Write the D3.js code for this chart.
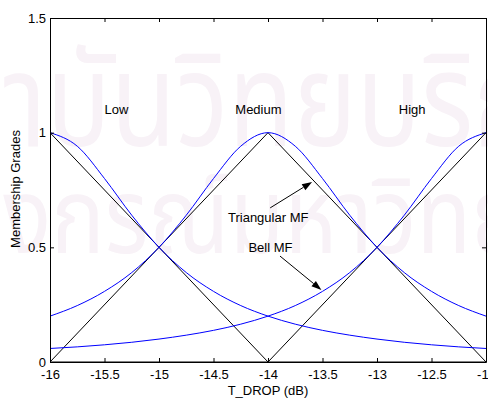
<!DOCTYPE html>
<html>
<head>
<meta charset="utf-8">
<script src="https://cdn.jsdelivr.net/npm/d3@7"></script>
<style>
  body { margin: 0; background: #fff; }
  svg { display: block; }
  text { font-family: "Liberation Sans", Arial, sans-serif; }
</style>
</head>
<body>
<div id="chart"></div>
<script>
// sample points along T_DROP (dB)
const xs = [-16, -15.75, -15.5, -15.25, -15, -14.75, -14.5, -14.25, -14, -13.75, -13.5, -13.25, -13, -12.75, -12.5, -12.25, -12];

// bell MFs (blue)
const bellLow = [1, 0.941, 0.8, 0.64, 0.5, 0.39, 0.308, 0.246, 0.2, 0.165, 0.138, 0.117, 0.1, 0.086, 0.075, 0.066, 0.059];
const bellMedium = [0.2, 0.246, 0.308, 0.39, 0.5, 0.64, 0.8, 0.941, 1, 0.941, 0.8, 0.64, 0.5, 0.39, 0.308, 0.246, 0.2];
const bellHigh = [0.059, 0.066, 0.075, 0.086, 0.1, 0.117, 0.138, 0.165, 0.2, 0.246, 0.308, 0.39, 0.5, 0.64, 0.8, 0.941, 1];

// triangular MFs (black), break points
const triX = [-16, -15, -14, -13, -12];
const triLow = [1, 0.5, 0, 0, 0];
const triMedium = [0, 0.5, 1, 0.5, 0];
const triHigh = [0, 0, 0, 0.5, 1];

const xTicks = [-16, -15.5, -15, -14.5, -14, -13.5, -13, -12.5, -12];
const xTickLabels = ['-16', '-15.5', '-15', '-14.5', '-14', '-13.5', '-13', '-12.5', '-12'];
const yTicks = [0, 0.5, 1, 1.5];
const yTickLabels = ['0', '0.5', '1', '1.5'];

const mfNames = ['Low', 'Medium', 'High'];
const mfLabelX = [-15.5, -14.3, -12.8];
const mfLabelY = 1.1;

const watermark = ['สถาบันวิทยบริการ', 'จุฬาลงกรณ์มหาวิทยาลัย'];

const W = 488, H = 399;
const margin = { top: 18, right: 2, bottom: 37, left: 50 };
const w = W - margin.left - margin.right;
const h = H - margin.top - margin.bottom;

const svg = d3.select('#chart').append('svg')
  .attr('width', W)
  .attr('height', H);

// faint background watermark (condensed, very light)
const wm = [
  { x: -122, y: 146, size: 130, sx: 0.82 },
  { x: -191, y: 253, size: 105, sx: 0.85 }
];
svg.append('g')
  .attr('fill', '#f8f2f7')
  .selectAll('text')
  .data(watermark)
  .join('text')
  .attr('transform', (d, i) => `translate(${wm[i].x},${wm[i].y}) scale(${wm[i].sx},1)`)
  .attr('font-size', (d, i) => wm[i].size)
  .style('font-family', '"Noto Sans Thai", "Noto Sans", sans-serif')
  .text(d => d);

const g = svg.append('g').attr('transform', `translate(${margin.left},${margin.top})`);

const x = d3.scaleLinear().domain([-16, -12]).range([0, w]);
const y = d3.scaleLinear().domain([0, 1.5]).range([h, 0]);

g.append('clipPath').attr('id', 'clip')
  .append('rect').attr('width', w).attr('height', h);

const line = d3.line()
  .x(d => x(d[0]))
  .y(d => y(d[1]));

const plot = g.append('g').attr('clip-path', 'url(#clip)');

[triLow, triMedium, triHigh].forEach(s => {
  plot.append('path')
    .datum(triX.map((v, i) => [v, s[i]]))
    .attr('fill', 'none')
    .attr('stroke', '#000')
    .attr('stroke-width', 1)
    .attr('d', line);
});

const bellLine = line.curve(d3.curveMonotoneX);
[bellLow, bellMedium, bellHigh].forEach(s => {
  plot.append('path')
    .datum(xs.map((v, i) => [v, s[i]]))
    .attr('fill', 'none')
    .attr('stroke', '#0000ff')
    .attr('stroke-width', 1)
    .attr('d', bellLine);
});

// axes, ticks pointing inward on all four sides
const fmtX = d => xTickLabels[xTicks.indexOf(d)];
const fmtY = d => yTickLabels[yTicks.indexOf(d)];

const styleAxis = sel => {
  sel.selectAll('path.domain').attr('stroke', '#000');
  sel.selectAll('.tick line').attr('stroke', '#000');
  sel.selectAll('text').attr('fill', '#000').attr('font-size', 13)
    .style('font-family', '"Liberation Sans", Arial, sans-serif');
};

g.append('g')
  .attr('transform', `translate(0,${h})`)
  .call(d3.axisBottom(x).tickValues(xTicks).tickFormat(fmtX).tickSizeInner(-4).tickSizeOuter(0).tickPadding(8))
  .call(styleAxis);

g.append('g')
  .call(d3.axisTop(x).tickValues(xTicks).tickFormat('').tickSizeInner(-4).tickSizeOuter(0))
  .call(styleAxis);

g.append('g')
  .call(d3.axisLeft(y).tickValues(yTicks).tickFormat(fmtY).tickSizeInner(-4).tickSizeOuter(0).tickPadding(4))
  .call(styleAxis);

g.append('g')
  .attr('transform', `translate(${w},0)`)
  .call(d3.axisRight(y).tickValues(yTicks).tickFormat('').tickSizeInner(-4).tickSizeOuter(0))
  .call(styleAxis);

// MF names
g.selectAll('text.mf')
  .data(mfNames)
  .join('text')
  .attr('class', 'mf')
  .attr('x', (d, i) => x(mfLabelX[i]))
  .attr('y', y(mfLabelY))
  .attr('dy', '0.35em')
  .attr('font-size', 13)
  .text(d => d);

// annotations with arrows
const notes = [
  { text: 'Triangular MF', tx: -14.367, ty: 0.632, from: [-13.98, 0.672], to: [-13.596, 0.785] },
  { text: 'Bell MF', tx: -14.18, ty: 0.5, from: [-13.89, 0.462], to: [-13.51, 0.314] }
];

notes.forEach(n => {
  g.append('text')
    .attr('x', x(n.tx))
    .attr('y', y(n.ty))
    .attr('dy', '0.35em')
    .attr('font-size', 13)
    .text(n.text);

  const x1 = x(n.from[0]), y1 = y(n.from[1]);
  const x2 = x(n.to[0]), y2 = y(n.to[1]);
  const ang = Math.atan2(y2 - y1, x2 - x1);
  const len = 10, half = 3.5;
  const bx = x2 - len * Math.cos(ang), by = y2 - len * Math.sin(ang);
  g.append('line')
    .attr('x1', x1).attr('y1', y1)
    .attr('x2', bx).attr('y2', by)
    .attr('stroke', '#000');
  g.append('path')
    .attr('d', `M${x2},${y2}L${bx + half * Math.sin(ang)},${by - half * Math.cos(ang)}L${bx - half * Math.sin(ang)},${by + half * Math.cos(ang)}Z`)
    .attr('fill', '#000');
});

// axis titles
svg.append('text')
  .attr('x', margin.left + x(-14))
  .attr('y', 395)
  .attr('text-anchor', 'middle')
  .attr('font-size', 13)
  .text('T_DROP (dB)');

svg.append('text')
  .attr('transform', `translate(20,189) rotate(-90)`)
  .attr('text-anchor', 'middle')
  .attr('font-size', 13)
  .text('Membership Grades');
</script>
</body>
</html>
